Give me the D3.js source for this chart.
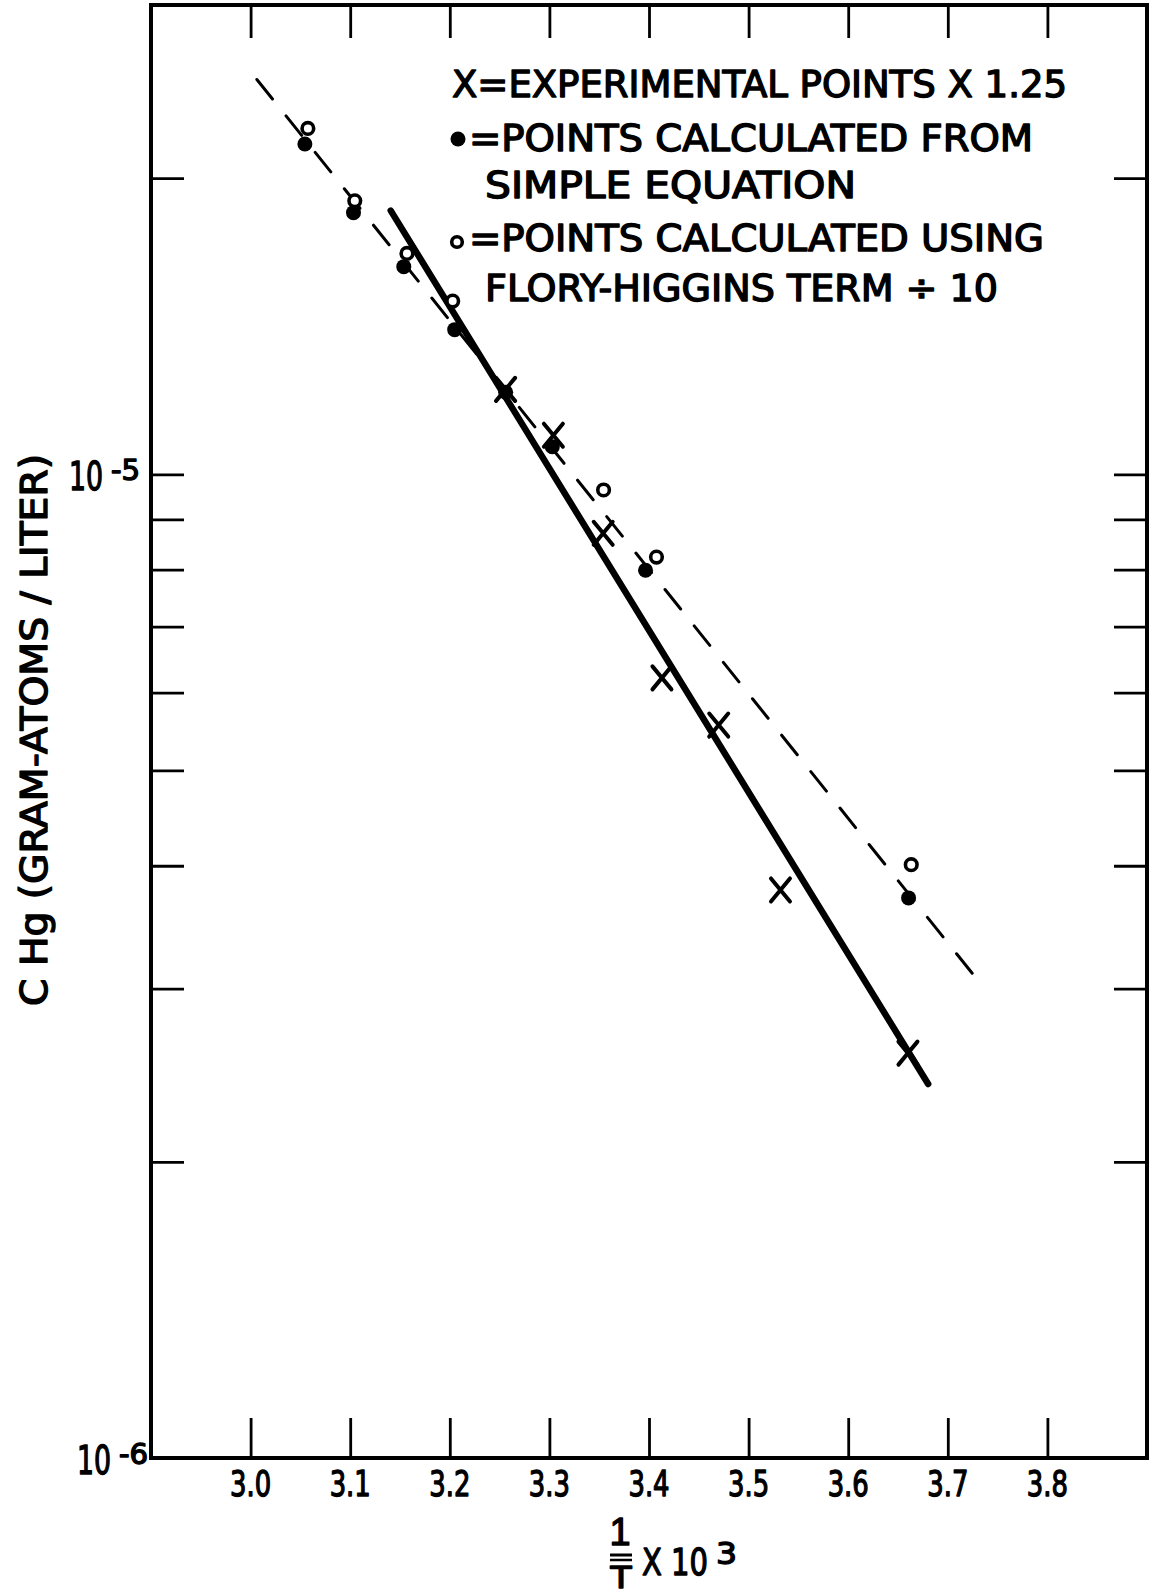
<!DOCTYPE html>
<html>
<head>
<meta charset="utf-8">
<script src="https://cdn.jsdelivr.net/npm/d3@7"></script>
<style>
  html, body { margin: 0; padding: 0; background: #fff; }
  svg { display: block; }
  text { font-family: "DejaVu Sans Condensed", "DejaVu Sans", sans-serif; fill: #000; stroke: #000; stroke-width: 1.3px; stroke-linejoin: round; }
</style>
</head>
<body>
<svg id="chart" width="1156" height="1596"></svg>
<script>
// ---- axis ticks and labels ----
const xTickValues = [3.0, 3.1, 3.2, 3.3, 3.4, 3.5, 3.6, 3.7, 3.8];
const xTickLabels = ["3.0", "3.1", "3.2", "3.3", "3.4", "3.5", "3.6", "3.7", "3.8"];
const yTickValues = [2e-6, 3e-6, 4e-6, 5e-6, 6e-6, 7e-6, 8e-6, 9e-6, 1e-5, 2e-5];
const yLabelValues = [1e-5, 1e-6];
const yLabelExponents = ["-5", "-6"];

// ---- experimental points (x 1.25) ----
const expInvT = [3.256, 3.304, 3.354, 3.413, 3.470, 3.532, 3.660];
const expC    = [1.22e-5, 1.096e-5, 8.71e-6, 6.21e-6, 5.56e-6, 3.78e-6, 2.58e-6];

// ---- points calculated from simple equation ----
const simpleInvT = [3.0545, 3.1033, 3.1538, 3.2049, 3.2561, 3.3029, 3.3965, 3.6606];
const simpleC    = [2.167e-5, 1.845e-5, 1.626e-5, 1.403e-5, 1.212e-5, 1.067e-5, 7.99e-6, 3.71e-6];

// ---- points calculated using Flory-Huggins term / 10 ----
const floryInvT = [3.0575, 3.1046, 3.1570, 3.2029, 3.3544, 3.4075, 3.6633];
const floryC    = [2.247e-5, 1.897e-5, 1.677e-5, 1.50e-5, 9.64e-6, 8.24e-6, 4.01e-6];

// ---- fitted lines ----
const solidInvT = [3.1407, 3.6803];
const solidC    = [1.854e-5, 2.40e-6];
const dashedInvT = [3.0063, 3.7245];
const dashedC    = [2.52e-5, 3.11e-6];

// ---- legend ----
const legendLines = [
  "X=EXPERIMENTAL POINTS X 1.25",
  "=POINTS CALCULATED FROM",
  "SIMPLE EQUATION",
  "=POINTS CALCULATED USING",
  "FLORY-HIGGINS TERM \u00F7 10"
];
const yTitle = "C Hg (GRAM-ATOMS / LITER)";

const zip = (a, b) => a.map((v, i) => [v, b[i]]);

const svg = d3.select("#chart");

const x = d3.scaleLinear().domain([2.9, 3.9]).range([151, 1147]);
const y = d3.scaleLog().domain([1e-6, 3e-5]).range([1458, 5]);

const x0 = x.range()[0], x1 = x.range()[1];
const yB = y.range()[0], yT = y.range()[1];

// narrow hand-lettered look: squeeze a text horizontally
function squeeze(sel, k) {
  sel.each(function () {
    const w = this.getComputedTextLength();
    d3.select(this).attr("textLength", w * k).attr("lengthAdjust", "spacingAndGlyphs");
  });
}

// inward ticks on all four sides
function styleTicks(g) {
  g.select(".domain").remove();
  g.selectAll(".tick line").attr("stroke", "#000").attr("stroke-width", 2.8);
}
svg.append("g").attr("transform", `translate(0,${yB})`)
  .call(d3.axisBottom(x).tickValues(xTickValues).tickSize(-40).tickFormat(""))
  .call(styleTicks);
svg.append("g").attr("transform", `translate(0,${yT})`)
  .call(d3.axisTop(x).tickValues(xTickValues).tickSize(-33).tickFormat(""))
  .call(styleTicks);
svg.append("g").attr("transform", `translate(${x0},0)`)
  .call(d3.axisLeft(y).tickValues(yTickValues).tickSize(-33).tickFormat(""))
  .call(styleTicks);
svg.append("g").attr("transform", `translate(${x1},0)`)
  .call(d3.axisRight(y).tickValues(yTickValues).tickSize(-33).tickFormat(""))
  .call(styleTicks);

// frame
svg.append("rect")
  .attr("x", x0).attr("y", yT)
  .attr("width", x1 - x0).attr("height", yB - yT)
  .attr("fill", "none").attr("stroke", "#000").attr("stroke-width", 4);

// x tick labels
svg.append("g").selectAll("text")
  .data(xTickValues)
  .join("text")
  .attr("x", d => x(d))
  .attr("y", yB + 38)
  .attr("text-anchor", "middle")
  .attr("font-size", 35)
  .text((d, i) => xTickLabels[i])
  .call(squeeze, 0.82);

// y decade labels: 10 with superscript exponent
const yl = svg.append("g");
yLabelValues.forEach((v, i) => {
  const yy = y(v);
  yl.append("text")
    .attr("x", x0 - 48 + i * 8).attr("y", yy + 16)
    .attr("text-anchor", "end")
    .attr("font-size", 39)
    .attr("textLength", 34).attr("lengthAdjust", "spacingAndGlyphs")
    .text("10");
  yl.append("text")
    .attr("x", x0 - 40 + i * 8).attr("y", yy + 6)
    .attr("font-size", 28)
    .attr("textLength", 29).attr("lengthAdjust", "spacingAndGlyphs")
    .text(yLabelExponents[i]);
});

// y axis title
svg.append("text")
  .attr("transform", "rotate(-90)")
  .attr("x", -1006).attr("y", 47)
  .attr("font-size", 37)
  .attr("textLength", 552).attr("lengthAdjust", "spacingAndGlyphs")
  .text(yTitle);

// x axis title: 1/T x 10^3
const xt = svg.append("g");
xt.append("text").attr("x", 620).attr("y", 1545).attr("text-anchor", "middle")
  .style("font-family", "'Liberation Sans', Arial, sans-serif")
  .attr("font-size", 38).text("1");
xt.append("line").attr("x1", 610).attr("x2", 632).attr("y1", 1555).attr("y2", 1555)
  .attr("stroke", "#000").attr("stroke-width", 3);
xt.append("line").attr("x1", 610).attr("x2", 632).attr("y1", 1560).attr("y2", 1560)
  .attr("stroke", "#000").attr("stroke-width", 2.5);
xt.append("text").attr("x", 621).attr("y", 1588).attr("text-anchor", "middle")
  .attr("font-size", 30).attr("textLength", 21).attr("lengthAdjust", "spacingAndGlyphs").text("T");
xt.append("text").attr("x", 642).attr("y", 1575)
  .attr("font-size", 38).attr("textLength", 66).attr("lengthAdjust", "spacingAndGlyphs").text("X 10");
xt.append("text").attr("x", 716).attr("y", 1564)
  .attr("font-size", 31).attr("textLength", 21).attr("lengthAdjust", "spacingAndGlyphs").text("3");

// fitted lines
const line = d3.line().x(d => x(d[0])).y(d => y(d[1]));
const dashed = svg.append("path")
  .attr("d", line(zip(dashedInvT, dashedC)))
  .attr("fill", "none").attr("stroke", "#000").attr("stroke-width", 3)
  .attr("stroke-linecap", "round");
{
  // fit a whole number of dashes so the line ends on a dash
  const L = dashed.node().getTotalLength();
  const dash = 25, period = 46;
  const n = Math.round((L - dash) / period);
  const gap = (L - dash * (n + 1)) / n;
  dashed.attr("stroke-dasharray", `${dash} ${gap}`);
}
svg.append("path")
  .attr("d", line(zip(solidInvT, solidC)))
  .attr("fill", "none").attr("stroke", "#000").attr("stroke-width", 6.5)
  .attr("stroke-linecap", "round");

// markers
svg.append("g").selectAll("circle")
  .data(zip(floryInvT, floryC))
  .join("circle")
  .attr("cx", d => x(d[0])).attr("cy", d => y(d[1])).attr("r", 5.8)
  .attr("fill", "#fff").attr("stroke", "#000").attr("stroke-width", 3.6);
svg.append("g").selectAll("circle")
  .data(zip(simpleInvT, simpleC))
  .join("circle")
  .attr("cx", d => x(d[0])).attr("cy", d => y(d[1])).attr("r", 7.5)
  .attr("fill", "#000");
svg.append("g").selectAll("path")
  .data(zip(expInvT, expC))
  .join("path")
  .attr("transform", d => `translate(${x(d[0])},${y(d[1])})`)
  .attr("d", "M-9.5,-11.5L9.5,11.5M-9.5,11.5L9.5,-11.5")
  .attr("fill", "none").attr("stroke", "#000").attr("stroke-width", 4)
  .attr("stroke-linecap", "round");

// legend
const lg = svg.append("g");
const legendX = [452, 469, 485, 469, 485];
const legendY = [97, 151, 198, 251, 301];
const legendW = [615, 564, 371, 575, 513];
legendLines.forEach((t, i) => {
  lg.append("text")
    .attr("x", legendX[i]).attr("y", legendY[i])
    .attr("font-size", 37)
    .attr("textLength", legendW[i]).attr("lengthAdjust", "spacingAndGlyphs")
    .text(t);
});
lg.append("circle").attr("cx", 458).attr("cy", 139).attr("r", 7.5).attr("fill", "#000");
lg.append("circle").attr("cx", 457).attr("cy", 242).attr("r", 5.3)
  .attr("fill", "#fff").attr("stroke", "#000").attr("stroke-width", 3.6);
</script>
</body>
</html>
